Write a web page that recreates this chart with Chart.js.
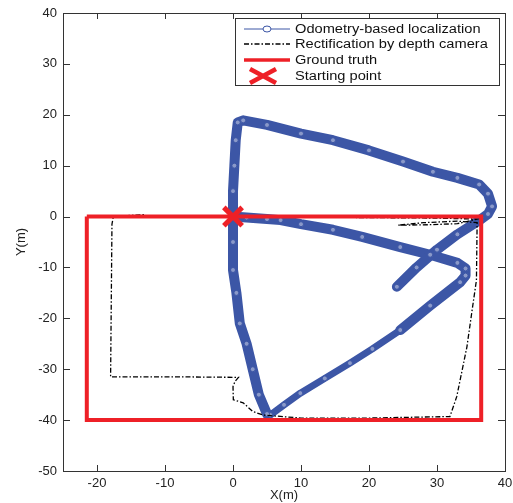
<!DOCTYPE html>
<html>
<head>
<meta charset="utf-8">
<script src="https://cdn.jsdelivr.net/npm/chart.js@4.4.1/dist/chart.umd.min.js"></script>
<style>
  body { margin: 0; background: #fff; }
</style>
</head>
<body>
<canvas id="traj" width="513" height="503"></canvas>
<script>
// tick labels
const xTicks = [-20, -10, 0, 10, 20, 30, 40];
const yTicks = [-50, -40, -30, -20, -10, 0, 10, 20, 30, 40];

// odometry-based localization
const odoX = [0, 2, 5, 7, 10, 14.7, 19, 24.6, 29, 33, 34.2, 34.2, 33.4,
              29, 24.6, 20.5, 17.2, 13.5, 9.9, 7.5, 5.5, 5,
              3.8, 2.9, 2, 1, 0.5, 0, 0, 0,
              0, 0.2, 0.4, 0.7, 1.5, 5, 10, 14.7, 20, 25, 29.4, 33, 36.2, 37.5, 38.1, 37.5, 36.5, 33, 30, 27, 24.1];
const odoY = [0, -0.2, -0.5, -0.7, -1.5, -2.6, -4, -6, -7.5, -9.1, -10.2, -11.6, -12.9,
              -17.5, -22.3, -26, -28.8, -31.8, -34.7, -37, -39, -38.8,
              -35, -30, -25, -21, -15, -10.5, -5, 0,
              5, 10, 15, 18.5, 18.9, 18, 16.3, 15, 13, 10.8, 8.8, 7.6, 6.3, 4.5, 2, 0.5, -0.5, -3.5, -6.5, -10, -13.8];

// rectification by depth camera
const rectX = [0, 5, 10, 20, 30, 35.9, 33, 29, 24.3, 28, 33, 35.9, 35.8, 35.1, 34.4, 32.9, 31.9,
               20, 10, 4.4, 2.9, 1.5, 0.05, 0, 0.3, 0.8, -8, -18, -17.8, -17.6, -13];
const rectY = [0, 0, -0.1, -0.2, -0.3, -0.5, -1.4, -1.6, -1.7, -1.2, -0.9, -1.2, -12.5, -19, -25.6, -35.4, -39.3,
               -39.6, -39.6, -39, -38.3, -36.6, -36, -33.4, -32.4, -31.6, -31.5, -31.5, -1.5, 0, 0.4];

// ground truth
const truthX = [-21.5, 36.5, 36.5, -21.5, -21.5];
const truthY = [0, 0, -40, -40, 0];

// starting point
const startX = [0];
const startY = [0];

const blue = '#3c56a6';
const red = '#ee2027';

function pts(xs, ys) {
  return xs.map((v, i) => ({ x: v, y: ys[i] }));
}

// inward ticks + box, MATLAB style
const frame = {
  id: 'frame',
  afterDraw(chart) {
    const { ctx, chartArea: a, scales: { x, y } } = chart;
    ctx.save();
    ctx.strokeStyle = '#333';
    ctx.lineWidth = 1;
    ctx.strokeRect(a.left + 0.5, a.top + 0.5, a.right - a.left, a.bottom - a.top);
    ctx.beginPath();
    x.ticks.forEach(t => {
      const px = Math.round(x.getPixelForValue(t.value)) + 0.5;
      ctx.moveTo(px, a.bottom); ctx.lineTo(px, a.bottom - 6);
      ctx.moveTo(px, a.top); ctx.lineTo(px, a.top + 6);
    });
    y.ticks.forEach(t => {
      const py = Math.round(y.getPixelForValue(t.value)) + 0.5;
      ctx.moveTo(a.left, py); ctx.lineTo(a.left + 7, py);
      ctx.moveTo(a.right, py); ctx.lineTo(a.right - 7, py);
    });
    ctx.stroke();
    ctx.restore();
  }
};

// legend box
const legendBox = {
  id: 'legendBox',
  afterDraw(chart) {
    const ctx = chart.ctx;
    const bx = 235, by = 18, bw = 264, bh = 67;
    const rows = [29, 44, 60, 76];
    const labels = ['Odometry-based localization', 'Rectification by depth camera', 'Ground truth', 'Starting point'];
    ctx.save();
    ctx.fillStyle = '#fff';
    ctx.fillRect(bx, by, bw, bh);
    ctx.strokeStyle = '#333';
    ctx.lineWidth = 1;
    ctx.strokeRect(bx + 0.5, by + 0.5, bw, bh);

    // odometry
    ctx.strokeStyle = blue;
    ctx.lineWidth = 1;
    ctx.beginPath(); ctx.moveTo(244, rows[0]); ctx.lineTo(290, rows[0]); ctx.stroke();
    ctx.fillStyle = '#fff';
    ctx.beginPath(); ctx.ellipse(267, rows[0], 4, 3, 0, 0, Math.PI * 2); ctx.fill(); ctx.stroke();

    // rectification
    ctx.strokeStyle = '#000';
    ctx.lineWidth = 1.3;
    ctx.setLineDash([5, 2, 1.5, 2]);
    ctx.beginPath(); ctx.moveTo(244, rows[1]); ctx.lineTo(290, rows[1]); ctx.stroke();
    ctx.setLineDash([]);

    // ground truth
    ctx.strokeStyle = red;
    ctx.lineWidth = 3.5;
    ctx.beginPath(); ctx.moveTo(244, rows[2]); ctx.lineTo(290, rows[2]); ctx.stroke();

    // starting point
    ctx.lineWidth = 4.5;
    ctx.beginPath();
    ctx.moveTo(250, rows[3] - 7); ctx.lineTo(276, rows[3] + 7);
    ctx.moveTo(250, rows[3] + 7); ctx.lineTo(276, rows[3] - 7);
    ctx.stroke();

    ctx.fillStyle = '#111';
    ctx.textBaseline = 'middle';
    ctx.font = '12px "Liberation Sans", Arial, sans-serif';
    labels.forEach((t, i) => {
      ctx.save();
      ctx.translate(295, rows[i] + 1);
      ctx.scale(1.22, 1);
      ctx.fillText(t, 0, 0);
      ctx.restore();
    });
    ctx.restore();
  }
};

const tickFont = { family: '"Liberation Sans", Arial, sans-serif', size: 13 };

new Chart(document.getElementById('traj'), {
  type: 'scatter',
  data: {
    datasets: [
      {
        label: 'Starting point',
        data: pts(startX, startY),
        pointStyle: 'crossRot',
        pointRadius: 13,
        pointBorderWidth: 5,
        pointBorderColor: red,
        order: 0
      },
      {
        label: 'Ground truth',
        data: pts(truthX, truthY),
        showLine: true,
        borderColor: red,
        borderWidth: 4,
        pointRadius: 0,
        borderJoinStyle: 'miter',
        order: 1
      },
      {
        label: 'Rectification by depth camera',
        data: pts(rectX, rectY),
        showLine: true,
        borderColor: '#000',
        borderWidth: 1.3,
        borderDash: [5, 2, 1.5, 2],
        pointRadius: 0,
        order: 2
      },
      {
        label: 'Odometry-based localization',
        data: pts(odoX, odoY),
        showLine: true,
        borderColor: blue,
        borderWidth: 10,
        borderCapStyle: 'round',
        borderJoinStyle: 'round',
        segment: {
          borderWidth: c => (c.p0.parsed.y < -20 && c.p0.parsed.x > 4 && c.p1.parsed.x > 4 && c.p0.parsed.x > c.p1.parsed.x && c.p0DataIndex < 22) ? 7 : 10
        },
        pointRadius: 2.5,
        pointBorderWidth: 1,
        pointBorderColor: blue,
        pointBackgroundColor: 'rgba(255,255,255,0.4)',
        order: 3
      }
    ]
  },
  options: {
    responsive: false,
    animation: false,
    layout: { autoPadding: false, padding: { top: 13, right: 8, left: 0, bottom: 0 } },
    plugins: { legend: { display: false }, tooltip: { enabled: false } },
    scales: {
      x: {
        type: 'linear',
        min: -25,
        max: 40,
        afterBuildTicks: s => { s.ticks = xTicks.map(v => ({ value: v })); },
        afterFit: s => { s.height = 32; s.paddingLeft = 0; s.paddingRight = 0; },
        grid: { display: false, drawTicks: false },
        border: { display: true, color: '#333' },
        ticks: { font: tickFont, color: '#222', padding: 5, maxRotation: 0 },
        title: { display: true, text: 'X(m)', font: tickFont, color: '#222', padding: 0 }
      },
      y: {
        type: 'linear',
        min: -50,
        max: 40,
        afterBuildTicks: s => { s.ticks = yTicks.map(v => ({ value: v })); },
        afterFit: s => { s.width = 63; s.paddingTop = 0; s.paddingBottom = 0; },
        grid: { display: false, drawTicks: false },
        border: { display: true, color: '#333' },
        ticks: { font: tickFont, color: '#222', padding: 6 },
        title: { display: true, text: 'Y(m)', font: tickFont, color: '#222', padding: { top: 14, bottom: 0 } }
      }
    }
  },
  plugins: [frame, legendBox]
});
</script>
</body>
</html>
